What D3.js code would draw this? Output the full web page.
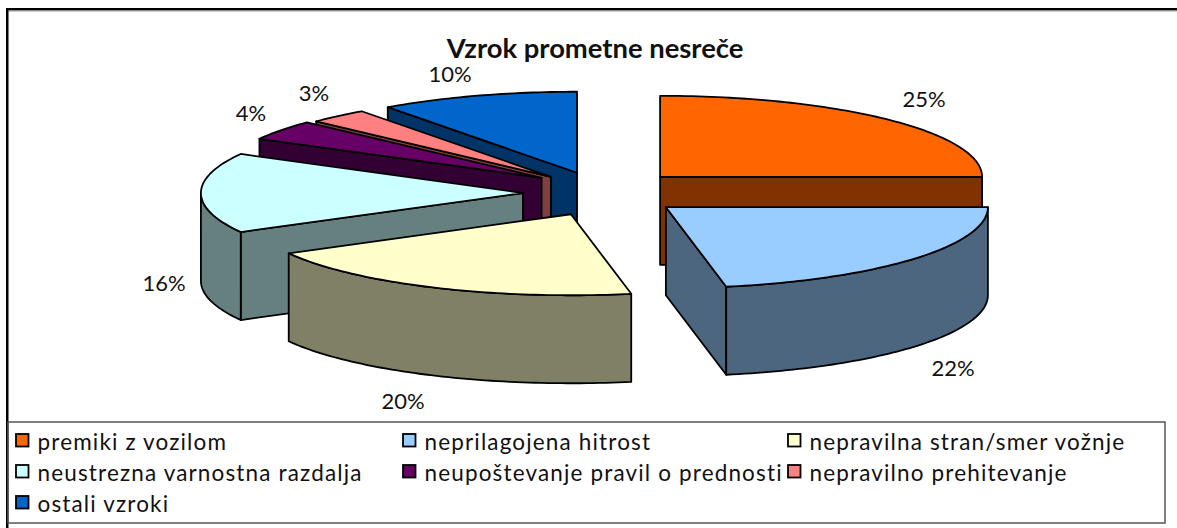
<!DOCTYPE html>
<html><head><meta charset="utf-8">
<script src="https://cdn.jsdelivr.net/npm/d3@7/dist/d3.min.js"></script>
<style>html,body{margin:0;padding:0;background:#fff}svg{display:block}text{font-family:Lato,"Open Sans",sans-serif;fill:#111}</style>
</head><body><svg id="c" width="1177" height="528"></svg>
<script>
const title = "Vzrok prometne nesreče";
const categories = ["premiki z vozilom","neprilagojena hitrost","nepravilna stran/smer vožnje","neustrezna varnostna razdalja","neupoštevanje pravil o prednosti","nepravilno prehitevanje","ostali vzroki"];
const values = [25,22,20,16,4,3,10];
const colors = ["#FF6600","#99CCFF","#FFFFCC","#CCFFFF","#660066","#FF8080","#0066CC"];
const explodeU = [0.168,0.186,-0.109,-0.258,-0.2,-0.171,-0.09];
const explodeV = [0.2,-0.175,-0.2625,0,0.1875,0.2,0.25];
const drawOrder = [6,5,4,3,2,0,1];

const svg = d3.select("#c");
const cx=606, cy=193, rx=322, ry=81, depth=88;
const x = d3.scaleLinear().domain([-1,1]).range([cx-rx,cx+rx]);
const y = d3.scaleLinear().domain([-1,1]).range([cy+ry,cy-ry]);
const arcs = d3.pie().sort(null).value(d=>d)(values);
const line = d3.line();
const half = c=>{const r=d3.rgb(c);return d3.rgb(r.r/2,r.g/2,r.b/2).formatHex();};

function pt(a,off,e){
  return [x(off.u+e*Math.sin(a)), y(off.v+e*Math.cos(a))];
}
const g = svg.append("g").attr("stroke","#000").attr("stroke-width",1.8).attr("stroke-linejoin","round");
function arcPts(a0,a1,off){
  const n=Math.max(2,Math.ceil((a1-a0)/0.02)), out=[];
  for(let i=0;i<=n;i++) out.push(pt(a0+(a1-a0)*i/n,off,1));
  return out;
}
drawOrder.forEach(i=>{
  const s=arcs[i];
  const off={u:explodeU[i],v:explodeV[i]};
  const apex=pt(0,off,0), side=half(colors[i]);
  const drop=p=>[p[0],p[1]+depth];
  const wall=p=>{g.append("path").attr("d",line([apex,p,drop(p),drop(apex)])+"Z").attr("fill",side);};
  if(Math.sin(s.startAngle)<-1e-6) wall(pt(s.startAngle,off,1));
  if(Math.sin(s.endAngle)>1e-6) wall(pt(s.endAngle,off,1));
  const f0=Math.max(s.startAngle,Math.PI/2), f1=Math.min(s.endAngle,3*Math.PI/2);
  if(f1>f0){
    const a=arcPts(f0,f1,off);
    g.append("path").attr("d",line(a.concat(a.map(drop).reverse()))+"Z").attr("fill",side);
  }
  g.append("path").attr("d",line([apex].concat(arcPts(s.startAngle,s.endAngle,off)))+"Z").attr("fill",colors[i]);
});

// frame: heavy top and left rules, grey legend box
svg.append("rect").attr("x",6).attr("y",8).attr("width",1171).attr("height",2.5).attr("fill","#000");
svg.append("rect").attr("x",6).attr("y",10.5).attr("width",1171).attr("height",1).attr("fill","#999");
svg.append("rect").attr("x",6).attr("y",8).attr("width",2.5).attr("height",520).attr("fill","#000");
svg.append("rect").attr("x",8).attr("y",422).attr("width",1157).attr("height",101).attr("fill","none").attr("stroke","#555").attr("stroke-width",1.5);

svg.append("text").attr("x",595).attr("y",58).attr("text-anchor","middle").attr("font-weight",700).attr("font-size",27.4).text(title);

const labelPos = [[924,107],[953,376],[403,409],[164,291],[251,121],[314,101],[450,82]];
values.forEach((v,i)=>svg.append("text").attr("x",labelPos[i][0]).attr("y",labelPos[i][1]).attr("text-anchor","middle").attr("font-size",22).text(v+"%"));

const legendX=[16,403,788,16,403,788,16], legendY=[450,481,512];
const rows=[0,0,0,1,1,1,2];
categories.forEach((c,i)=>{
  const ly=legendY[rows[i]];
  svg.append("rect").attr("x",legendX[i]).attr("y",ly-16).attr("width",12.5).attr("height",12.5).attr("fill",colors[i]).attr("stroke","#000").attr("stroke-width",1.8);
  svg.append("text").attr("x",legendX[i]+21.5).attr("y",ly).attr("font-size",22.5).attr("letter-spacing",1.15).text(c);
});
</script>
</body></html>
